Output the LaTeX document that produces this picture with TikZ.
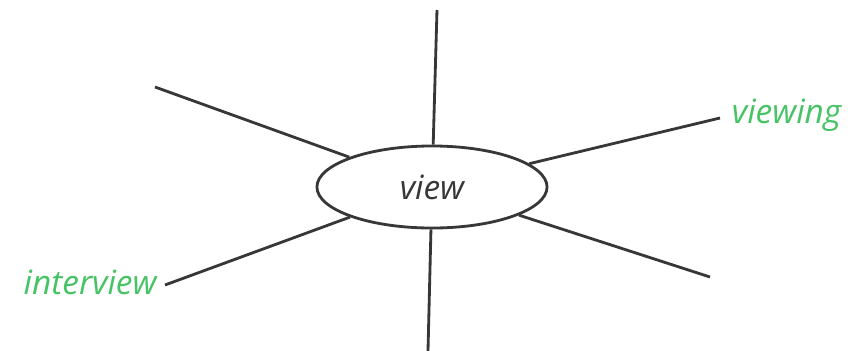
\documentclass[tikz,border=0pt]{standalone}
\usepackage{fontspec}
\usepackage{tikz}
\usetikzlibrary{shapes.geometric}
\newfontfamily\handfont{Open Sans}
\definecolor{wordgreen}{RGB}{70,195,100}
\definecolor{pencil}{RGB}{55,55,55}

\begin{document}
\begin{tikzpicture}[x=0.01cm,y=-0.01cm,line width=0.8pt,draw=pencil,
        word/.style={text=wordgreen,font=\handfont\itshape\fontsize{9.5}{11}\selectfont}]
        \useasboundingbox (0,0) rectangle (850,351);
        % word in the middle
        \node[draw,ellipse,minimum width=2.3cm,minimum height=0.82cm,inner sep=0pt,text=pencil,font=\handfont\itshape\fontsize{9.5}{11}\selectfont] (view) at (432,187) {view};
        % branch ends
        \coordinate (top) at (437,10);
        \coordinate (upleft) at (155,87);
        \coordinate (right) at (720,118);
        \coordinate (downright) at (710,277);
        \coordinate (bottom) at (428,351);
        \coordinate (downleft) at (165,285);
        \foreach \e in {top,upleft,right,downright,bottom,downleft}
            \draw (view) -- (\e);
        % words written on the branches
        \node[word,right,inner sep=3pt] (viewing) at ([yshift=0.03cm]right) {viewing};
        \node[word,left,inner sep=2pt] (interview) at ([yshift=0.03cm]downleft) {interview};
\end{tikzpicture}
\end{document}
